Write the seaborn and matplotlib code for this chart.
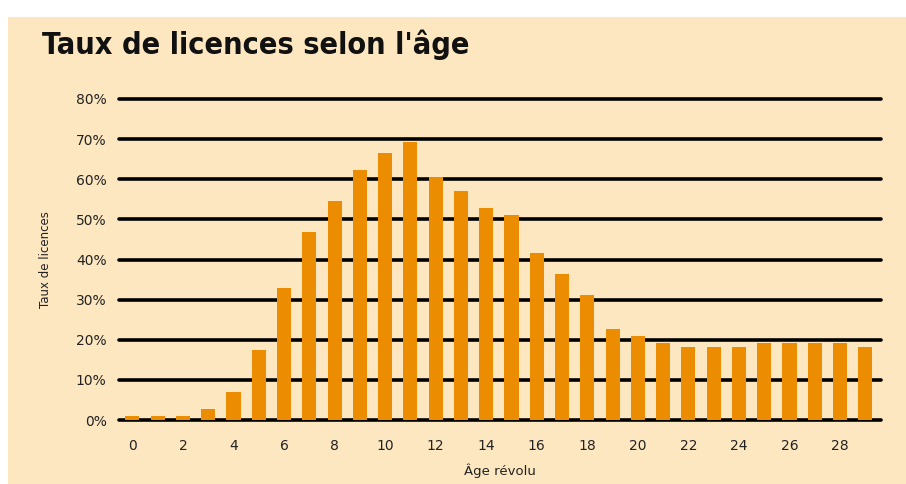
"""
Taux de licences selon l'âge - bar chart
"""

import numpy as np
import pandas as pd
import matplotlib
matplotlib.use("Agg")
import matplotlib.pyplot as plt
from matplotlib import font_manager
import seaborn as sns

# data
ages = list(range(30))
taux = [1.1, 1.1, 1.1, 2.7, 7.0, 17.5, 32.8, 46.8, 54.5, 62.2,
        66.5, 69.2, 60.5, 57.0, 52.8, 51.0, 41.5, 36.3, 31.2, 22.7,
        21.0, 19.2, 18.2, 18.2, 18.2, 19.2, 19.2, 19.2, 19.2, 18.2]
y_ticks = [0, 10, 20, 30, 40, 50, 60, 70, 80]
x_ticks = list(range(0, 30, 2))

title = "Taux de licences selon l'âge"
y_label = "Taux de licences"
x_label = "Âge révolu"

bg = "#fde7c1"
bar_color = "#ec8c00"

df = pd.DataFrame({"age": ages, "taux": taux})

sns.set_style("white")
plt.rcParams["font.family"] = ["DejaVu Sans"]

# look for a condensed bold face for the title, else shrink the normal one
title_font = None
title_size = 19.5
for f in font_manager.fontManager.ttflist:
    fn = f.fname.lower()
    if ("condensed" in fn or "narrow" in fn) and "bold" in fn and "oblique" not in fn and "italic" not in fn:
        title_font = font_manager.FontProperties(fname=f.fname)
        title_size = 22
        break

fig = plt.figure(figsize=(9.06, 4.84), dpi=100)
fig.patch.set_facecolor("white")
# cream panel behind everything
fig.patches.append(plt.Rectangle((8 / 906, 0), 1, 1 - 17 / 484,
                                 transform=fig.transFigure,
                                 facecolor=bg, edgecolor="none", zorder=-10))

ax = fig.add_axes([119 / 906, 1 - 420 / 484, (881 - 119) / 906, (420 - 99) / 484])
ax.patch.set_alpha(0)

sns.barplot(data=df, x="age", y="taux", color=bar_color, saturation=1,
            width=0.56, order=ages, ax=ax, zorder=3, linewidth=0)

ax.set_xlim(-0.53, 29.62)
ax.set_ylim(0, 80)
ax.set_yticks(y_ticks)
ax.set_yticklabels([f"{v}%" for v in y_ticks])
ax.set_xticks(x_ticks)
ax.set_xticklabels([str(v) for v in x_ticks])

ax.set_axisbelow(True)
ax.yaxis.grid(True, color="black", linewidth=2.6)
ax.xaxis.grid(False)
for line in ax.get_ygridlines():
    line.set_clip_on(False)
for s in ax.spines.values():
    s.set_visible(False)
ax.tick_params(axis="both", length=0, labelsize=10, colors="#222222")
ax.tick_params(axis="y", pad=9)
ax.tick_params(axis="x", pad=14)

ax.set_ylabel(y_label, fontsize=8.5, color="#222222", labelpad=17)
ax.set_xlabel(x_label, fontsize=9.5, color="#222222", labelpad=7)

if title_font is not None:
    fig.text(42 / 906, 1 - 45 / 484, title, fontproperties=title_font,
             fontsize=title_size, ha="left", va="center", color="#111111")
else:
    fig.text(42 / 906, 1 - 45 / 484, title, fontsize=title_size,
             fontweight="bold", ha="left", va="center", color="#111111")

fig.savefig("out.png", dpi=100, facecolor=fig.get_facecolor())
